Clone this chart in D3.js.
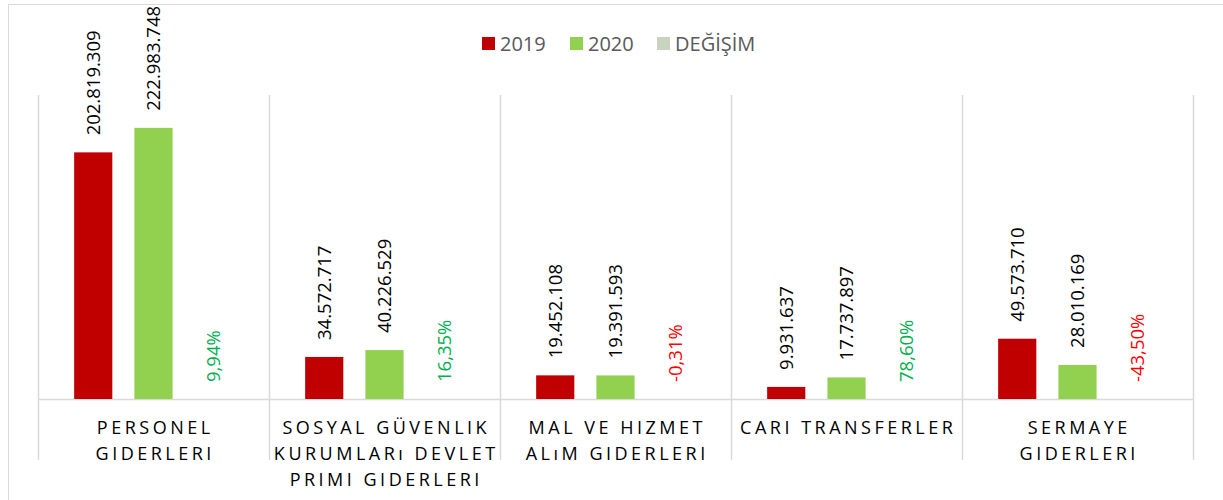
<!DOCTYPE html>
<html lang="tr">
<head>
<meta charset="UTF-8">
<title>Giderler</title>
<style>
  body { margin: 0; padding: 0; background: #fff; }
  svg { display: block; font-family: "Open Sans", "Noto Sans", sans-serif; }
  .val { font-size: 18.5px; }
  .cat { font-size: 18px; fill: #000; letter-spacing: 3.5px; }
  .leg { font-size: 20px; fill: #595959; }
</style>
</head>
<body>
<div id="chart"></div>
<script src="https://cdn.jsdelivr.net/npm/d3@7"></script>
<script>
// categories (lines as printed under the axis)
const categories = [
  ["PERSONEL", "GIDERLERI"],
  ["SOSYAL GÜVENLIK", "KURUMLARı DEVLET", "PRIMI GIDERLERI"],
  ["MAL VE HIZMET", "ALıM GIDERLERI"],
  ["CARI TRANSFERLER"],
  ["SERMAYE", "GIDERLERI"]
];
const series = ["2019", "2020", "DEĞİŞİM"];
const v2019 = [202819309, 34572717, 19452108, 9931637, 49573710];
const v2020 = [222983748, 40226529, 19391593, 17737897, 28010169];
const degisim = [9.94, 16.35, -0.31, 78.60, -43.50];   // percent

const colors = ["#C00000", "#92D050", "#C9D3C0"];

const W = 1223, H = 500;
const svg = d3.select("#chart").append("svg").attr("width", W).attr("height", H);

const tr = d3.formatLocale({ decimal: ",", thousands: ".", grouping: [3], currency: ["", ""], minus: "-" });
const fmtInt = tr.format(",d");
const fmtPct = tr.format(".2f");

// outer chart border
svg.append("rect").attr("x", 8.5).attr("y", 4.5).attr("width", W).attr("height", H)
  .attr("fill", "none").attr("stroke", "#d9d9d9");

const x = d3.scaleBand().domain(d3.range(categories.length)).range([38, 1193]);
const xs = d3.scaleBand().domain(series).range([0, x.bandwidth()])
  .paddingInner(0.3667).paddingOuter(0.6);
const y = d3.scaleLinear().domain([0, 250e6]).range([399, 95]);

// category separators (multi-level style ticks)
const ticks = d3.range(categories.length + 1).map(i => i < categories.length ? x(i) : x.range()[1]);
svg.append("g").selectAll("line").data(ticks).join("line")
  .attr("x1", d => d + 0.5).attr("x2", d => d + 0.5)
  .attr("y1", 95).attr("y2", 460)
  .attr("stroke", "#d9d9d9").attr("stroke-width", 1.5);

// baseline
svg.append("line").attr("x1", 38).attr("x2", 1193).attr("y1", 399.5).attr("y2", 399.5)
  .attr("stroke", "#d9d9d9").attr("stroke-width", 1.5);

const rows = categories.map((c, i) => ({
  i,
  vals: [
    { s: "2019", v: v2019[i], label: fmtInt(v2019[i]), color: "#000" },
    { s: "2020", v: v2020[i], label: fmtInt(v2020[i]), color: "#000" },
    { s: "DEĞİŞİM", v: degisim[i] / 100, label: fmtPct(degisim[i]) + "%",
      color: degisim[i] < 0 ? "#FF0000" : "#00B050" }
  ]
}));

const groups = svg.append("g").selectAll("g").data(rows).join("g")
  .attr("transform", d => `translate(${x(d.i)},0)`);

groups.selectAll("rect").data(d => d.vals).join("rect")
  .attr("x", d => xs(d.s))
  .attr("width", xs.bandwidth())
  .attr("y", d => y(Math.max(0, d.v)))
  .attr("height", d => Math.abs(y(0) - y(d.v)))
  .attr("fill", (d, j) => colors[j]);

// rotated data labels, clamped so they stay inside the chart area
groups.selectAll("text.val").data(d => d.vals).join("text")
  .attr("class", "val")
  .style("fill", d => d.color)
  .attr("text-anchor", "start")
  .text(d => d.label)
  .each(function (d) {
    const len = this.getComputedTextLength();
    let start = y(Math.max(0, d.v)) - 17;
    if (start - len < 5) start = 5 + len;
    const cx = xs(d.s) + xs.bandwidth() / 2 + 6.5;
    d3.select(this).attr("transform", `translate(${cx},${start}) rotate(-90)`);
  });

// category labels
groups.each(function (d) {
  const g = d3.select(this);
  const t = g.append("text").attr("class", "cat").attr("text-anchor", "middle");
  categories[d.i].forEach((line, k) => {
    t.append("tspan").attr("x", x.bandwidth() / 2 + 1.75).attr("y", 434 + k * 26).text(line);
  });
});

// legend
const legX = [482, 570, 657];
const leg = svg.append("g").selectAll("g").data(series).join("g")
  .attr("transform", (d, i) => `translate(${legX[i]},37)`);
leg.append("rect").attr("width", 13).attr("height", 13).attr("fill", (d, i) => colors[i]);
leg.append("text").attr("class", "leg").attr("x", 18).attr("y", 14).text(d => d);
</script>
</body>
</html>
